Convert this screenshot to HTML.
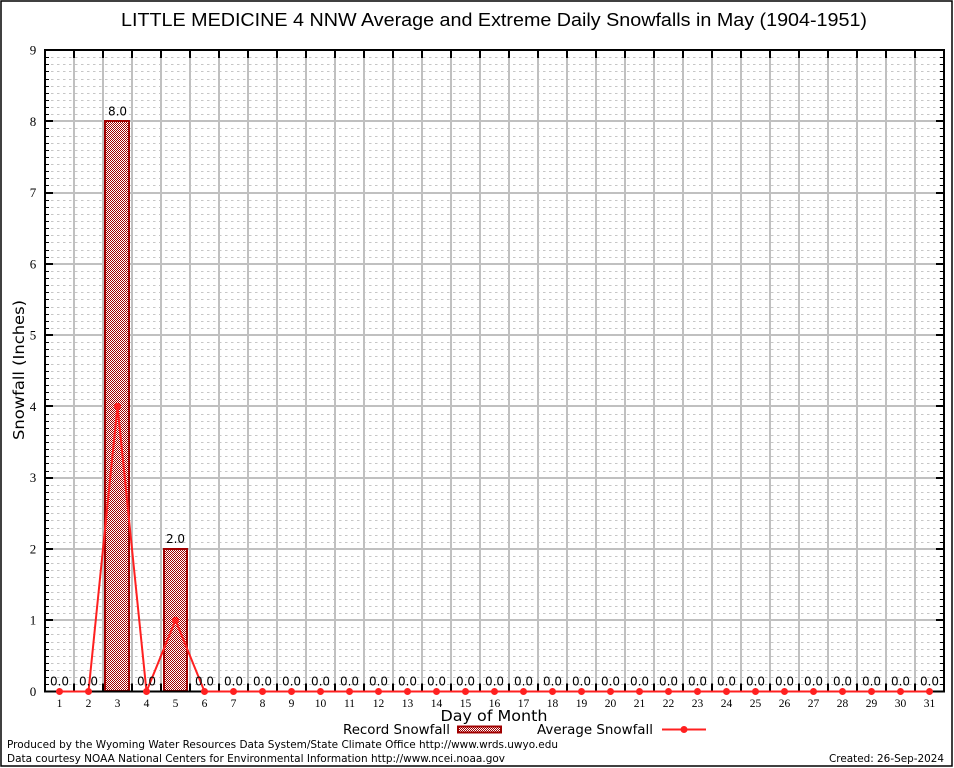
<!DOCTYPE html>
<html><head><meta charset="utf-8"><style>
html,body{margin:0;padding:0;background:#fff;}
svg{display:block;}
</style></head><body>
<svg width="954" height="768" viewBox="0 0 954 768" xmlns="http://www.w3.org/2000/svg">
<defs>
<pattern id="chk" patternUnits="userSpaceOnUse" width="2" height="2">
<rect x="0" y="0" width="2" height="2" fill="#ffffff"/>
<rect x="0" y="0" width="1" height="1" fill="#a00000"/>
<rect x="1" y="1" width="1" height="1" fill="#a00000"/>
</pattern>
</defs>
<rect x="0" y="0" width="954" height="768" fill="#fff"/>
<rect x="1" y="1" width="951" height="765" fill="none" stroke="#000" stroke-width="1.5"/>
<g shape-rendering="crispEdges">
<g id="minor" stroke="#c6c6c6" stroke-width="1" stroke-dasharray="2.5,3.5"></g>
<g id="major" stroke="#c0c0c0" stroke-width="2"></g>
<g id="ticks" stroke="#000" stroke-width="1"></g>
<rect x="105" y="121" width="24" height="570" fill="url(#chk)" stroke="#a00000" stroke-width="2"/>
<rect x="164" y="549" width="23" height="142" fill="url(#chk)" stroke="#a00000" stroke-width="2"/>
<rect x="45" y="50" width="899" height="641.5" fill="none" stroke="#000" stroke-width="2"/>
</g>
<g id="avg"></g>
<g id="labels" font-family="'DejaVu Sans','Liberation Sans',sans-serif" font-size="12" fill="#000" text-anchor="middle"></g>
<g id="xt" font-family="'Liberation Serif','DejaVu Serif',serif" font-size="11.5" fill="#000" text-anchor="middle"></g>
<g id="yt" font-family="'Liberation Serif','DejaVu Serif',serif" font-size="13" fill="#000" text-anchor="middle"></g>
<text x="494" y="26" font-family="'Liberation Sans',sans-serif" font-size="18" text-anchor="middle" textLength="746" lengthAdjust="spacingAndGlyphs">LITTLE MEDICINE 4 NNW Average and Extreme Daily Snowfalls in May (1904-1951)</text>
<text transform="translate(24,370) rotate(-90)" font-family="'DejaVu Sans',sans-serif" font-size="15" text-anchor="middle" textLength="140" lengthAdjust="spacingAndGlyphs">Snowfall (Inches)</text>
<text x="494" y="721" font-family="'DejaVu Sans',sans-serif" font-size="15" text-anchor="middle" textLength="107" lengthAdjust="spacingAndGlyphs">Day of Month</text>
<text x="343" y="734" font-family="'DejaVu Sans',sans-serif" font-size="13" textLength="107" lengthAdjust="spacingAndGlyphs">Record Snowfall</text>
<rect x="458" y="726.5" width="43" height="6" fill="url(#chk)" stroke="#a00000" stroke-width="2" shape-rendering="crispEdges"/>
<text x="537" y="734" font-family="'DejaVu Sans',sans-serif" font-size="13" textLength="116" lengthAdjust="spacingAndGlyphs">Average Snowfall</text>
<line x1="662" y1="729.5" x2="706" y2="729.5" stroke="#ff2020" stroke-width="2"/>
<circle cx="684" cy="729.5" r="3.5" fill="#ff2020"/>
<text x="7" y="748" font-family="'DejaVu Sans',sans-serif" font-size="10.5" textLength="551" lengthAdjust="spacingAndGlyphs">Produced by the Wyoming Water Resources Data System/State Climate Office http://www.wrds.uwyo.edu</text>
<text x="7" y="762" font-family="'DejaVu Sans',sans-serif" font-size="10.5" textLength="498" lengthAdjust="spacingAndGlyphs">Data courtesy NOAA National Centers for Environmental Information http://www.ncei.noaa.gov</text>
<text x="944" y="762" font-family="'DejaVu Sans',sans-serif" font-size="10.5" text-anchor="end" textLength="115" lengthAdjust="spacingAndGlyphs">Created: 26-Sep-2024</text>
</svg>
<script>
(function(){
var NS="http://www.w3.org/2000/svg";
function el(p,t,a,txt){var e=document.createElementNS(NS,t);for(var k in a)e.setAttribute(k,a[k]);if(txt!==undefined)e.textContent=txt;document.getElementById(p).appendChild(e);return e;}
var L=45,R=944,T=50,B=691.5,dw=29,uy=(B-T)/9;
function Y(v){return B-v*uy;}
for(var i=1;i<90;i++){if(i%10==0)continue;var y=Math.round(Y(i/10))+0.5;el("minor","line",{x1:L,x2:R,y1:y,y2:y});
el("ticks","line",{x1:L,x2:L+4,y1:y,y2:y});el("ticks","line",{x1:R-4,x2:R,y1:y,y2:y});}
for(var i=1;i<9;i++){var y=Math.round(Y(i));el("major","line",{x1:L,x2:R,y1:y,y2:y});
el("ticks","line",{x1:L,x2:L+8,y1:y,y2:y,"stroke-width":2});el("ticks","line",{x1:R-8,x2:R,y1:y,y2:y,"stroke-width":2});}
for(var k=1;k<31;k++){var x=L+k*dw;el("major","line",{x1:x,x2:x,y1:T,y2:B});
el("ticks","line",{x1:x,x2:x,y1:T,y2:T+8,"stroke-width":2});el("ticks","line",{x1:x,x2:x,y1:B-8,y2:B,"stroke-width":2});}
for(var i=0;i<=9;i++){el("yt","text",{x:33,y:Y(i)+4.5},String(i));}
var rec=[0,0,8,0,2,0,0,0,0,0,0,0,0,0,0,0,0,0,0,0,0,0,0,0,0,0,0,0,0,0,0];
var avg=[0,0,4,0,1,0,0,0,0,0,0,0,0,0,0,0,0,0,0,0,0,0,0,0,0,0,0,0,0,0,0];
var pts=[];
for(var d=0;d<31;d++){var cx=L+dw*d+dw/2;
el("xt","text",{x:cx,y:707},String(d+1));
el("labels","text",{x:cx,y:Y(rec[d])-6},rec[d].toFixed(1));
pts.push(cx+","+Y(avg[d]));}
el("avg","polyline",{points:pts.join(" "),fill:"none",stroke:"#ff2020","stroke-width":2,"stroke-linejoin":"miter"});
for(var d=0;d<31;d++){var cx=L+dw*d+dw/2;el("avg","circle",{cx:cx,cy:Y(avg[d]),r:3.5,fill:"#ff2020"});}
})();
</script>
</body></html>
